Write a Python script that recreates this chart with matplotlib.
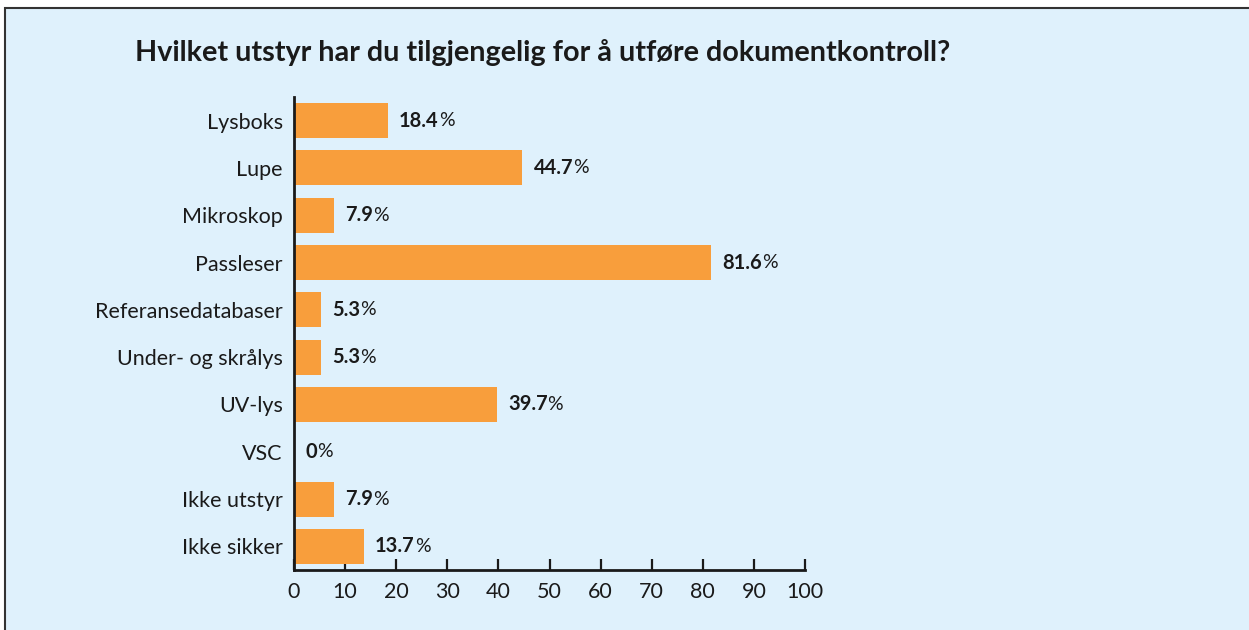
import matplotlib
matplotlib.use("Agg")
import matplotlib.pyplot as plt
from matplotlib.patches import Rectangle

categories = ["Lysboks", "Lupe", "Mikroskop", "Passleser", "Referansedatabaser",
              "Under- og skrålys", "UV-lys", "VSC", "Ikke utstyr", "Ikke sikker"]
values = [18.4, 44.7, 7.9, 81.6, 5.3, 5.3, 39.7, 0.0, 7.9, 13.7]
value_labels = ["18.4", "44.7", "7.9", "81.6", "5.3", "5.3", "39.7", "0", "7.9", "13.7"]
x_ticks = [0, 10, 20, 30, 40, 50, 60, 70, 80, 90, 100]
title = "Hvilket utstyr har du tilgjengelig for å utføre dokumentkontroll?"

BG = "#dff1fc"
BAR = "#f89e3c"
DARK = "#1a1a1a"
FONT = ["Lato", "DejaVu Sans"]
plt.rcParams["font.family"] = FONT

W, H = 1249, 630
fig = plt.figure(figsize=(W / 100, H / 100), dpi=100, facecolor="white")

# panel background with border (top/left visible)
fig.patches.append(Rectangle((5 / W, -0.05), 1.1, 1 - 8 / H + 0.05, transform=fig.transFigure,
                             facecolor=BG, edgecolor="#333333", linewidth=1.5, zorder=-10))

ax = fig.add_axes([294 / W, 1 - 570 / H, (805 - 294) / W, (570 - 97) / H])
ax.set_facecolor("none")

ypos = list(range(len(categories)))
ax.barh(ypos, values, height=0.74, color=BAR, zorder=2)

ax.set_xlim(0, 100)
ax.set_ylim(len(categories) - 0.5, -0.5)
ax.set_yticks(ypos)
ax.set_yticklabels(categories, fontsize=15.5, color=DARK)
ax.set_xticks(x_ticks)
ax.set_xticklabels([str(t) for t in x_ticks], fontsize=15.5, color=DARK)
ax.tick_params(axis="y", length=0, pad=8)
ax.tick_params(axis="x", direction="in", length=8, width=1.6, color=DARK, pad=9)

for s in ["top", "right"]:
    ax.spines[s].set_visible(False)
for s in ["left", "bottom"]:
    ax.spines[s].set_linewidth(2)
    ax.spines[s].set_color(DARK)
ax.spines["left"].set_zorder(3)

for y, v, lab in zip(ypos, values, value_labels):
    t = ax.annotate(lab, xy=(v, y), xytext=(8, 0), textcoords="offset points",
                    ha="left", va="center", fontsize=14.5, fontweight="bold", color=DARK)
    ax.annotate("%", xy=(1, 0.5), xycoords=t, xytext=(0, 0), textcoords="offset points",
                ha="left", va="center", fontsize=14, color=DARK)

fig.text(135 / W, 1 - 61 / H, title, fontsize=20.7, fontweight="bold", color=DARK,
         ha="left", va="baseline")

fig.savefig("out.png", dpi=100, facecolor="white")
